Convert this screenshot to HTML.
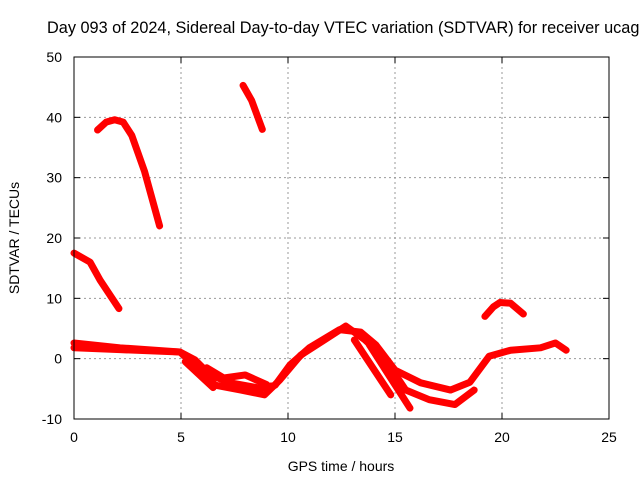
<!DOCTYPE html>
<html><head><meta charset="utf-8"><style>
body{margin:0;background:#fff}
svg{display:block;font-family:"Liberation Sans",sans-serif;font-size:14px}
</style></head><body>
<svg id="chart" width="640" height="480">
<text x="47" y="33" font-size="16.3">Day 093 of 2024, Sidereal Day-to-day VTEC variation (SDTVAR) for receiver ucag</text>
<text x="341" y="471" text-anchor="middle">GPS time / hours</text>
<text transform="translate(19,238) rotate(-90)" text-anchor="middle">SDTVAR / TECUs</text>
<g id="grid"></g><g id="ticks"></g><g id="series"></g>
<rect x="74" y="57" width="535" height="362" fill="none" stroke="#000" stroke-width="1"/>
</svg>
<script>
const xTicks=[0,5,10,15,20,25];
const yTicks=[-10,0,10,20,30,40,50];
const seriesA=[[0,17.5],[0.75,16],[1.22,13],[2.1,8.3]];
const seriesB=[[1.1,37.9],[1.5,39.2],[1.9,39.6],[2.3,39.2],[2.7,37],[3.3,31],[4.0,22]];
const seriesC=[[7.9,45.3],[8.3,42.8],[8.8,38]];
const seriesD=[[19.2,7],[19.6,8.6],[19.9,9.3],[20.4,9.2],[21,7.4]];
const seriesE=[[0,2.6],[2.15,1.8],[4.95,1.1],[5.65,-0.2],[6.36,-2.7],[7.3,-4],[8.7,-4.9],[9.4,-4.4],[10.1,-1.0],[11.0,1.8],[12.4,4.8],[13.4,4.4],[14.1,2.3],[15.0,-1.9],[16.2,-4.0],[17.6,-5.2],[18.5,-3.9],[19.4,0.4],[20.4,1.4],[21.8,1.8],[22.5,2.6],[23.0,1.4]];
const seriesF=[[0,1.8],[2.15,1.5],[4.95,1.1],[5.9,-1.9],[6.6,-4.4],[7.8,-5.2],[8.9,-6],[9.6,-3.6],[10.6,0.6],[11.7,3.1],[12.7,5.4],[13.6,3.1],[14.5,0.1],[15.5,-5.2],[16.6,-6.8],[17.8,-7.6],[18.7,-5.2]];
const seriesG=[[13.1,3.1],[14.8,-6]];
const seriesH=[[13.8,2.3],[15.7,-8.2]];
const seriesI=[[6.2,-1.5],[7.0,-3.2],[8.0,-2.7],[9,-4.3]];
const seriesJ=[[5.2,-0.5],[6.5,-4.8]];
const allSeries=[seriesA,seriesB,seriesC,seriesD,seriesE,seriesF,seriesG,seriesH,seriesI,seriesJ];
const X=h=>74+h*(535/25);
const Y=v=>419-(v+10)*(362/60);
const NS='http://www.w3.org/2000/svg';
const grid=document.getElementById('grid'),ticks=document.getElementById('ticks'),sg=document.getElementById('series');
function mk(tag,at,par){const e=document.createElementNS(NS,tag);for(const k in at)e.setAttribute(k,at[k]);par.appendChild(e);return e;}
xTicks.forEach(t=>{
 if(t>0&&t<25){const g=mk('line',{x1:X(t),x2:X(t),y1:57,y2:419,stroke:'#999','stroke-dasharray':'2,3'},grid);
 
 }
 const tl=mk('text',{x:X(t),y:442,'text-anchor':'middle'},ticks);tl.textContent=t;
 
 
 mk('line',{x1:X(t),x2:X(t),y1:419,y2:413,stroke:'#000'},ticks);
 mk('line',{x1:X(t),x2:X(t),y1:57,y2:63,stroke:'#000'},ticks);
});
yTicks.forEach(t=>{
 if(t>-10&&t<50){const g=mk('line',{x1:74,x2:609,y1:Y(t),y2:Y(t),stroke:'#999','stroke-dasharray':'2,3'},grid);
 
 }
 const tl=mk('text',{x:62,y:Y(t)+5,'text-anchor':'end'},ticks);tl.textContent=t;
 
 
 mk('line',{x1:74,x2:80,y1:Y(t),y2:Y(t),stroke:'#000'},ticks);
 mk('line',{x1:603,x2:609,y1:Y(t),y2:Y(t),stroke:'#000'},ticks);
});
allSeries.forEach((s,i)=>{
 const p=mk('polyline',{points:s.map(d=>X(d[0])+','+Y(d[1])).join(' '),fill:'none',stroke:'#f00','stroke-width':7,'stroke-linejoin':'round','stroke-linecap':'round'},sg);
 
 
});
</script>
</body></html>
